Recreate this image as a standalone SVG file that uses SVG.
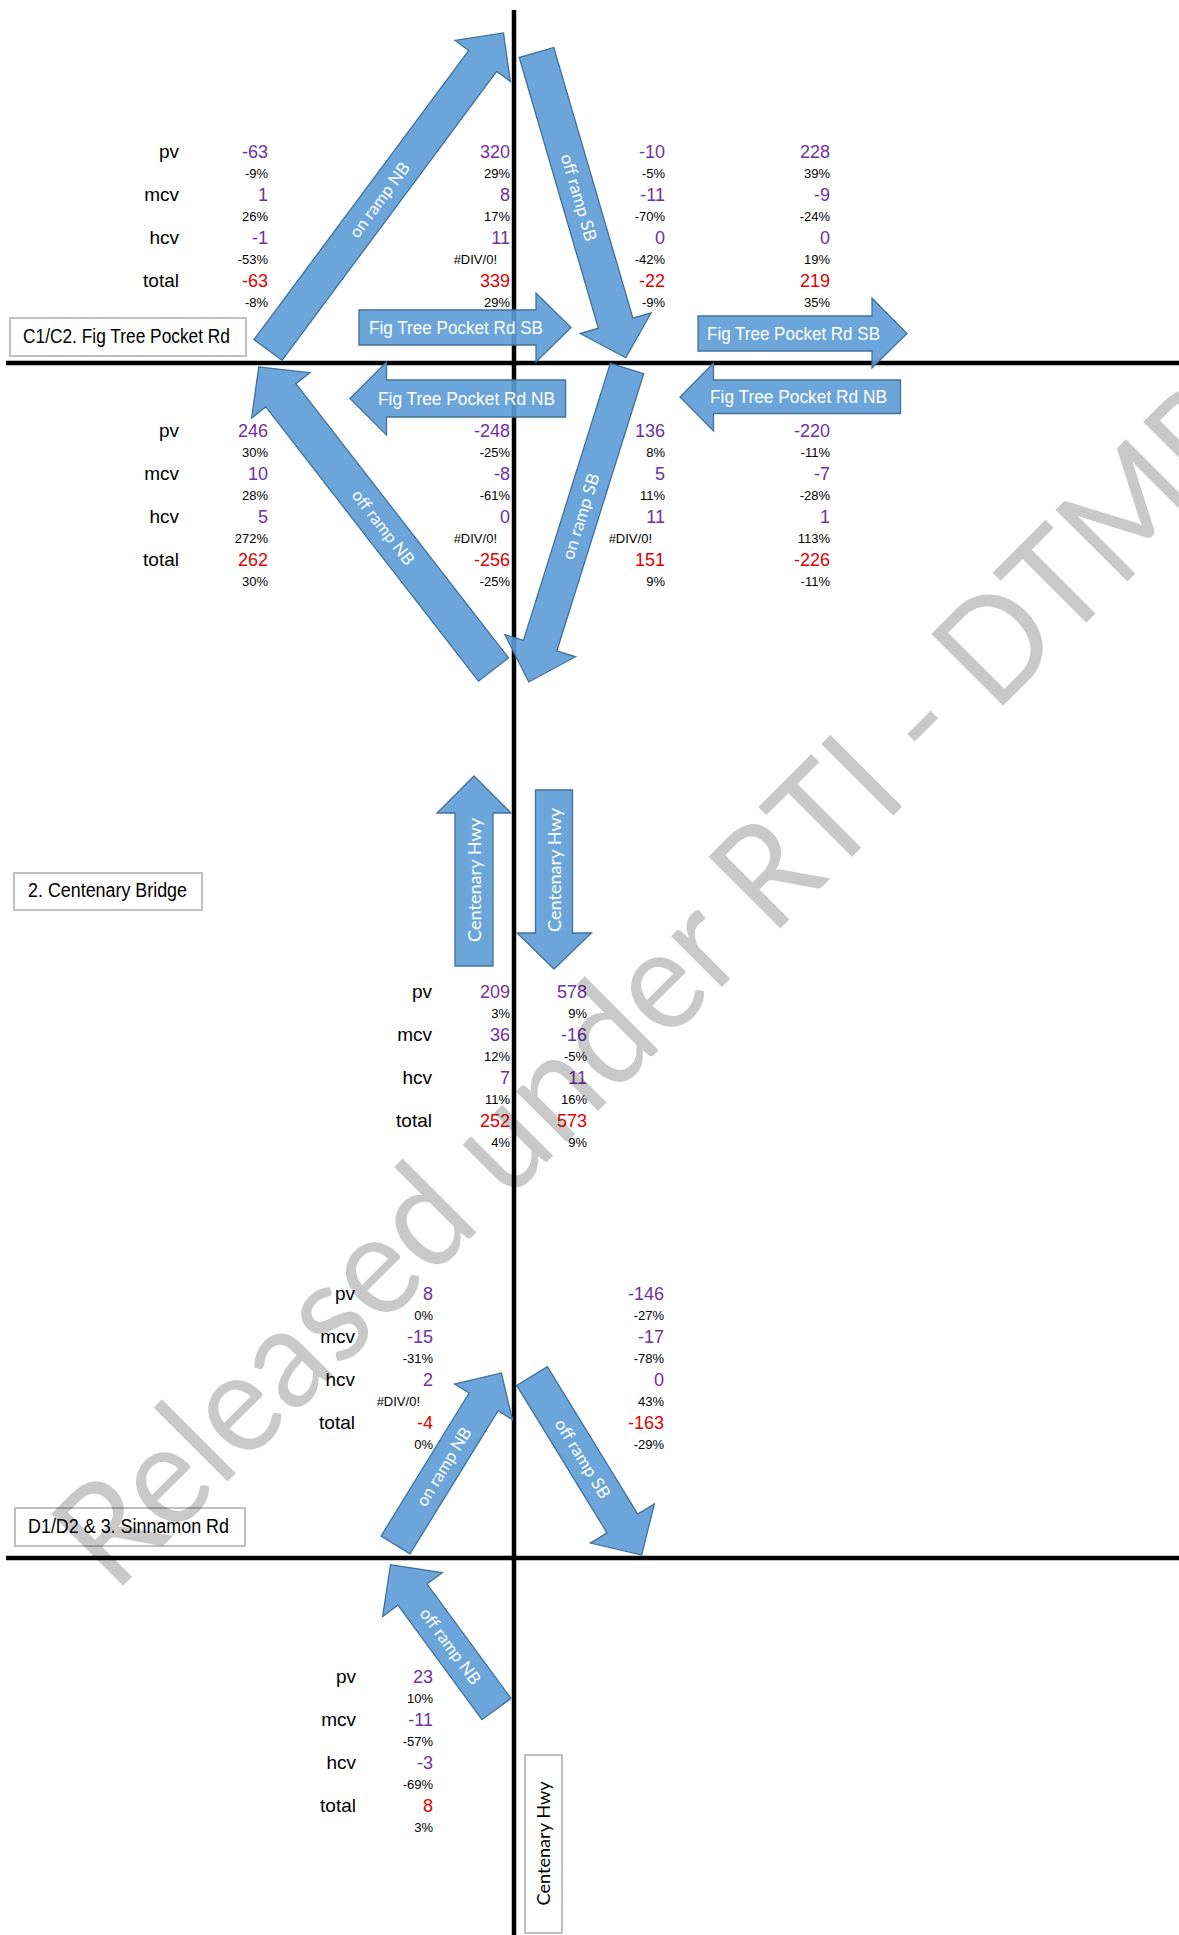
<svg xmlns="http://www.w3.org/2000/svg" width="1179" height="1935" viewBox="0 0 1179 1935">
  <style>
    .road { stroke: #000; stroke-width: 4.5; fill: none; }
    .arrow polygon { fill: #5b9bd5; fill-opacity: 0.9; stroke: #41719c; stroke-width: 1.3; stroke-linejoin: miter; }
    .hl { font-family: "Liberation Sans", Arial, sans-serif; font-size: 18px; fill: #fff; }
    .rl { font-family: Lato, "Open Sans", sans-serif; font-size: 17px; fill: #fff; text-anchor: middle; }
    .box rect { fill: #fff; stroke: #bfbfbf; stroke-width: 2; }
    .bt { font-family: "Liberation Sans", Arial, sans-serif; font-size: 20px; fill: #000; }
    .data text { font-family: "Liberation Sans", Arial, sans-serif; text-anchor: end; }
    .lb { font-size: 19px; fill: #000; }
    .n { font-size: 18px; fill: #7030a0; }
    .t { font-size: 18px; fill: #e00000; }
    .p { font-size: 13px; fill: #000; }
    .wm { font-family: Lato, "Open Sans", sans-serif; font-size: 142px; fill: #000; fill-opacity: 0.21; }
  </style>

  <rect width="1179" height="1935" fill="#fff"/>

  <!-- road centre lines -->
  <g id="roads">
    <line class="road" x1="514" y1="10" x2="514" y2="1935"/>
    <line class="road" x1="6" y1="363" x2="1179" y2="363"/>
    <line class="road" x1="6" y1="1558" x2="1179" y2="1558"/>
  </g>

  <!-- section labels -->
  <g id="label-c1c2" class="box">
    <rect x="10" y="318" width="236" height="38"/>
    <text class="bt" x="23" y="343" textLength="207" lengthAdjust="spacingAndGlyphs">C1/C2. Fig Tree Pocket Rd</text>
  </g>
  <g id="label-centenary-bridge" class="box">
    <rect x="14" y="873" width="188" height="37"/>
    <text class="bt" x="28" y="897" textLength="159" lengthAdjust="spacingAndGlyphs">2. Centenary Bridge</text>
  </g>
  <g id="label-sinnamon" class="box">
    <rect x="15" y="1508" width="230" height="38"/>
    <text class="bt" x="28" y="1533" textLength="201" lengthAdjust="spacingAndGlyphs">D1/D2 &amp; 3. Sinnamon Rd</text>
  </g>
  <g id="label-centenary-hwy" class="box">
    <rect x="525" y="1755" width="37" height="178"/>
    <text class="rl" style="fill:#000;font-size:18px" transform="translate(550,1843.5) rotate(-90)" x="0" y="0" textLength="124" lengthAdjust="spacingAndGlyphs">Centenary Hwy</text>
  </g>

  <!-- movement arrows -->
  <g id="arrow-onramp-nb-north" class="arrow" transform="translate(268,350) rotate(-53.4)">
    <polygon points="0,-17.5 360,-17.5 360,-34.5 395,0 360,34.5 360,17.5 0,17.5"/>
    <text class="rl" x="187" y="0" dy="0.35em" textLength="89" lengthAdjust="spacingAndGlyphs">on ramp NB</text>
  </g>
  <g id="arrow-offramp-sb-north" class="arrow" transform="translate(536.5,52.5) rotate(73.7)">
    <polygon points="0,-18 282,-18 282,-37 318,0 282,37 282,18 0,18"/>
    <text class="rl" x="151" y="0" dy="0.35em" textLength="90" lengthAdjust="spacingAndGlyphs">off ramp SB</text>
  </g>
  <g id="arrow-ftp-sb-west" class="arrow">
    <polygon points="359,310 536,310 536,293 571,327.5 536,362 536,345 359,345"/>
    <text class="hl" x="369" y="334" textLength="174" lengthAdjust="spacingAndGlyphs">Fig Tree Pocket Rd SB</text>
  </g>
  <g id="arrow-ftp-sb-east" class="arrow">
    <polygon points="698,316 872,316 872,298 907,333.5 872,368 872,351 698,351"/>
    <text class="hl" x="707" y="340" textLength="173" lengthAdjust="spacingAndGlyphs">Fig Tree Pocket Rd SB</text>
  </g>
  <g id="arrow-ftp-nb-west" class="arrow">
    <polygon points="565.6,380 386.5,380 386.5,362 350,398.5 386.5,435 386.5,417 565.6,417"/>
    <text class="hl" x="378" y="405" textLength="177" lengthAdjust="spacingAndGlyphs">Fig Tree Pocket Rd NB</text>
  </g>
  <g id="arrow-ftp-nb-east" class="arrow">
    <polygon points="900.5,380 713.5,380 713.5,363 680,397 713.5,431 713.5,413.5 900.5,413.5"/>
    <text class="hl" x="710" y="403" textLength="177" lengthAdjust="spacingAndGlyphs">Fig Tree Pocket Rd NB</text>
  </g>
  <g id="arrow-offramp-nb-north" class="arrow" transform="translate(493.5,669.5) rotate(-127.8)">
    <polygon points="0,-19 347,-19 347,-37 383,0 347,37 347,19 0,19"/>
    <text class="rl" transform="rotate(180,180,0)" x="180" y="0" dy="0.35em" textLength="90" lengthAdjust="spacingAndGlyphs">off ramp NB</text>
  </g>
  <g id="arrow-onramp-sb-north" class="arrow" transform="translate(627,368.5) rotate(107.4)">
    <polygon points="0,-17.5 290.5,-17.5 290.5,-37 328.5,0 290.5,37 290.5,17.5 0,17.5"/>
    <text class="rl" transform="rotate(180,155,0)" x="155" y="0" dy="0.35em" textLength="89" lengthAdjust="spacingAndGlyphs">on ramp SB</text>
  </g>
  <g id="arrow-centenary-nb" class="arrow">
    <polygon points="455,966 455,813 437,813 474,776 511,813 493,813 493,966"/>
    <text class="rl" style="font-size:18px" transform="translate(480.5,880) rotate(-90)" x="0" y="0" textLength="124" lengthAdjust="spacingAndGlyphs">Centenary Hwy</text>
  </g>
  <g id="arrow-centenary-sb" class="arrow">
    <polygon points="535.5,790 572.5,790 572.5,933 591.5,933 554,969 517,933 535.5,933"/>
    <text class="rl" style="font-size:18px" transform="translate(560.5,870) rotate(-90)" x="0" y="0" textLength="124" lengthAdjust="spacingAndGlyphs">Centenary Hwy</text>
  </g>
  <g id="arrow-onramp-nb-south" class="arrow" transform="translate(395.5,1545) rotate(-58.4)">
    <polygon points="0,-17 168,-17 168,-34 202,0 168,34 168,17 0,17"/>
    <text class="rl" x="92" y="0" dy="0.35em" textLength="89" lengthAdjust="spacingAndGlyphs">on ramp NB</text>
  </g>
  <g id="arrow-offramp-sb-south" class="arrow" transform="translate(532,1376) rotate(58.5)">
    <polygon points="0,-18 173,-18 173,-37.5 210,0 173,37.5 173,18 0,18"/>
    <text class="rl" x="97" y="0" dy="0.35em" textLength="90" lengthAdjust="spacingAndGlyphs">off ramp SB</text>
  </g>
  <g id="arrow-offramp-nb-south" class="arrow" transform="translate(496.5,1709) rotate(-126.3)">
    <polygon points="0,-18 142,-18 142,-37 179,0 142,37 142,18 0,18"/>
    <text class="rl" transform="rotate(180,78,0)" x="78" y="0" dy="0.35em" textLength="90" lengthAdjust="spacingAndGlyphs">off ramp NB</text>
  </g>

  <!-- traffic counts: value and percentage change -->
  <g id="counts-ftp-north" class="data" transform="translate(0,158)">
    <text class="lb" x="179" y="0">pv</text><text class="lb" x="179" y="43">mcv</text><text class="lb" x="179" y="86">hcv</text><text class="lb" x="179" y="129">total</text>
    <text class="n" x="268" y="0">-63</text><text class="p" x="268" y="19.5">-9%</text>
    <text class="n" x="268" y="43">1</text><text class="p" x="268" y="62.5">26%</text>
    <text class="n" x="268" y="86">-1</text><text class="p" x="268" y="105.5">-53%</text>
    <text class="t" x="268" y="129">-63</text><text class="p" x="268" y="148.5">-8%</text>
    <text class="n" x="510" y="0">320</text><text class="p" x="510" y="19.5">29%</text>
    <text class="n" x="510" y="43">8</text><text class="p" x="510" y="62.5">17%</text>
    <text class="n" x="510" y="86">11</text><text class="p" x="497" y="105.5">#DIV/0!</text>
    <text class="t" x="510" y="129">339</text><text class="p" x="510" y="148.5">29%</text>
    <text class="n" x="665" y="0">-10</text><text class="p" x="665" y="19.5">-5%</text>
    <text class="n" x="665" y="43">-11</text><text class="p" x="665" y="62.5">-70%</text>
    <text class="n" x="665" y="86">0</text><text class="p" x="665" y="105.5">-42%</text>
    <text class="t" x="665" y="129">-22</text><text class="p" x="665" y="148.5">-9%</text>
    <text class="n" x="830" y="0">228</text><text class="p" x="830" y="19.5">39%</text>
    <text class="n" x="830" y="43">-9</text><text class="p" x="830" y="62.5">-24%</text>
    <text class="n" x="830" y="86">0</text><text class="p" x="830" y="105.5">19%</text>
    <text class="t" x="830" y="129">219</text><text class="p" x="830" y="148.5">35%</text>
  </g>

  <g id="counts-ftp-south" class="data" transform="translate(0,437)">
    <text class="lb" x="179" y="0">pv</text><text class="lb" x="179" y="43">mcv</text><text class="lb" x="179" y="86">hcv</text><text class="lb" x="179" y="129">total</text>
    <text class="n" x="268" y="0">246</text><text class="p" x="268" y="19.5">30%</text>
    <text class="n" x="268" y="43">10</text><text class="p" x="268" y="62.5">28%</text>
    <text class="n" x="268" y="86">5</text><text class="p" x="268" y="105.5">272%</text>
    <text class="t" x="268" y="129">262</text><text class="p" x="268" y="148.5">30%</text>
    <text class="n" x="510" y="0">-248</text><text class="p" x="510" y="19.5">-25%</text>
    <text class="n" x="510" y="43">-8</text><text class="p" x="510" y="62.5">-61%</text>
    <text class="n" x="510" y="86">0</text><text class="p" x="497" y="105.5">#DIV/0!</text>
    <text class="t" x="510" y="129">-256</text><text class="p" x="510" y="148.5">-25%</text>
    <text class="n" x="665" y="0">136</text><text class="p" x="665" y="19.5">8%</text>
    <text class="n" x="665" y="43">5</text><text class="p" x="665" y="62.5">11%</text>
    <text class="n" x="665" y="86">11</text><text class="p" x="652" y="105.5">#DIV/0!</text>
    <text class="t" x="665" y="129">151</text><text class="p" x="665" y="148.5">9%</text>
    <text class="n" x="830" y="0">-220</text><text class="p" x="830" y="19.5">-11%</text>
    <text class="n" x="830" y="43">-7</text><text class="p" x="830" y="62.5">-28%</text>
    <text class="n" x="830" y="86">1</text><text class="p" x="830" y="105.5">113%</text>
    <text class="t" x="830" y="129">-226</text><text class="p" x="830" y="148.5">-11%</text>
  </g>

  <g id="counts-centenary-bridge" class="data" transform="translate(0,998)">
    <text class="lb" x="432" y="0">pv</text><text class="lb" x="432" y="43">mcv</text><text class="lb" x="432" y="86">hcv</text><text class="lb" x="432" y="129">total</text>
    <text class="n" x="510" y="0">209</text><text class="p" x="510" y="19.5">3%</text>
    <text class="n" x="510" y="43">36</text><text class="p" x="510" y="62.5">12%</text>
    <text class="n" x="510" y="86">7</text><text class="p" x="510" y="105.5">11%</text>
    <text class="t" x="510" y="129">252</text><text class="p" x="510" y="148.5">4%</text>
    <text class="n" x="587" y="0">578</text><text class="p" x="587" y="19.5">9%</text>
    <text class="n" x="587" y="43">-16</text><text class="p" x="587" y="62.5">-5%</text>
    <text class="n" x="587" y="86">11</text><text class="p" x="587" y="105.5">16%</text>
    <text class="t" x="587" y="129">573</text><text class="p" x="587" y="148.5">9%</text>
  </g>

  <g id="counts-sinnamon-north" class="data" transform="translate(0,1300)">
    <text class="lb" x="355" y="0">pv</text><text class="lb" x="355" y="43">mcv</text><text class="lb" x="355" y="86">hcv</text><text class="lb" x="355" y="129">total</text>
    <text class="n" x="433" y="0">8</text><text class="p" x="433" y="19.5">0%</text>
    <text class="n" x="433" y="43">-15</text><text class="p" x="433" y="62.5">-31%</text>
    <text class="n" x="433" y="86">2</text><text class="p" x="420" y="105.5">#DIV/0!</text>
    <text class="t" x="433" y="129">-4</text><text class="p" x="433" y="148.5">0%</text>
    <text class="n" x="664" y="0">-146</text><text class="p" x="664" y="19.5">-27%</text>
    <text class="n" x="664" y="43">-17</text><text class="p" x="664" y="62.5">-78%</text>
    <text class="n" x="664" y="86">0</text><text class="p" x="664" y="105.5">43%</text>
    <text class="t" x="664" y="129">-163</text><text class="p" x="664" y="148.5">-29%</text>
  </g>

  <g id="counts-sinnamon-south" class="data" transform="translate(0,1683)">
    <text class="lb" x="356" y="0">pv</text><text class="lb" x="356" y="43">mcv</text><text class="lb" x="356" y="86">hcv</text><text class="lb" x="356" y="129">total</text>
    <text class="n" x="433" y="0">23</text><text class="p" x="433" y="19.5">10%</text>
    <text class="n" x="433" y="43">-11</text><text class="p" x="433" y="62.5">-57%</text>
    <text class="n" x="433" y="86">-3</text><text class="p" x="433" y="105.5">-69%</text>
    <text class="t" x="433" y="129">8</text><text class="p" x="433" y="148.5">3%</text>
  </g>

  <!-- release stamp across the sheet -->
  <text id="watermark" class="wm" transform="translate(114.5,1594.5) rotate(-45)" x="0" y="0" textLength="1628" lengthAdjust="spacingAndGlyphs">Released under RTI - DTMR</text>
</svg>
